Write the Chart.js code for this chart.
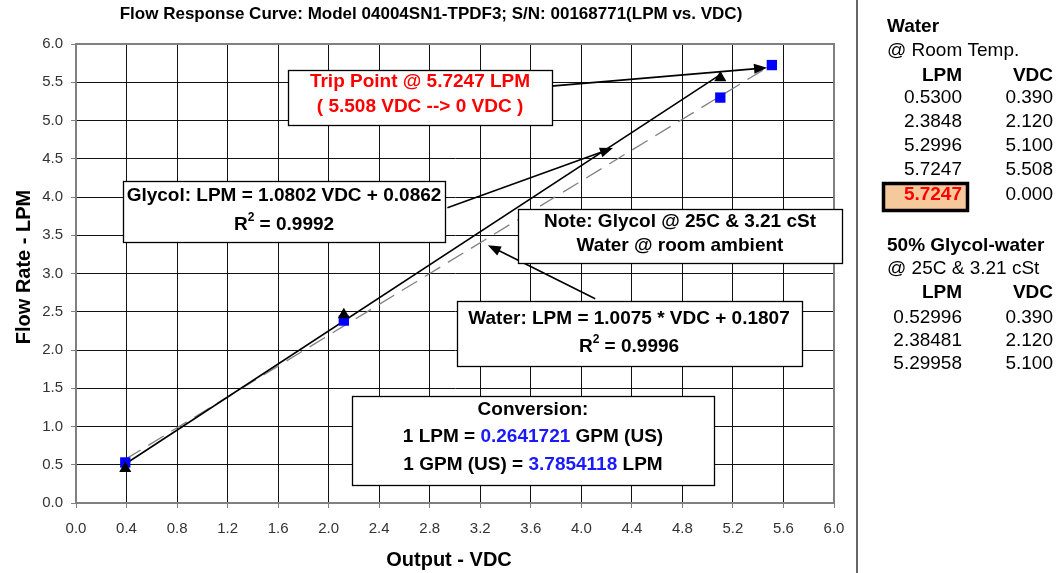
<!DOCTYPE html>
<html>
<head>
<meta charset="utf-8">
<style>
  html,body{margin:0;padding:0;background:#fff;}
  canvas{display:block;}
</style>
<script src="https://cdn.jsdelivr.net/npm/chart.js@4.4.1/dist/chart.umd.min.js"></script>
</head>
<body>
<canvas id="c" width="1058" height="573"></canvas>
<script>
// ---------- data ----------
const waterVDC = [0.39, 2.12, 5.10, 5.508];
const waterLPM = [0.53, 2.3848, 5.2996, 5.7247];
const glycolVDC = [0.39, 2.12, 5.10];
const glycolLPM = [0.45, 2.46, 5.56];          // as plotted
const glycolTrendVDC = [0.39, 5.10];
const glycolTrendLPM = [0.51, 5.60];
const waterTrendVDC = [0.39, 5.508];
const waterTrendLPM = [0.57, 5.73];

const tableWaterLPM = ['0.5300', '2.3848', '5.2996', '5.7247', '5.7247'];
const tableWaterVDC = ['0.390', '2.120', '5.100', '5.508', '0.000'];
const tableGlycolLPM = ['0.52996', '2.38481', '5.29958'];
const tableGlycolVDC = ['0.390', '2.120', '5.100'];

// arrows in data coordinates: [fromX, fromY, toX, toY]
const arrowTrip = [3.69, 5.44, 5.47, 5.69];
const arrowGlycol = [2.94, 3.86, 4.25, 4.64];
const arrowWater = [4.11, 2.67, 3.26, 3.37];

const FAM = '"Liberation Sans", Arial, Helvetica, sans-serif';
const pts = (xs, ys) => xs.map((x, i) => ({x: x, y: ys[i]}));

function drawRich(ctx, segs, cx, cy) {
  let total = 0;
  segs.forEach(s => { ctx.font = s.font; s.w = ctx.measureText(s.t).width; total += s.w; });
  let x = cx - total / 2;
  ctx.textAlign = 'left';
  ctx.textBaseline = 'middle';
  segs.forEach(s => {
    ctx.font = s.font; ctx.fillStyle = s.color || '#000';
    ctx.fillText(s.t, x, cy + (s.dy || 0));
    x += s.w;
  });
}

function box(ctx, l, t, r, b) {
  ctx.save();
  ctx.fillStyle = '#fff';
  ctx.fillRect(l, t, r - l, b - t);
  ctx.strokeStyle = '#000';
  ctx.lineWidth = 1.3;
  ctx.strokeRect(l + 0.5, t + 0.5, r - l, b - t);
  ctx.restore();
}

function arrow(ctx, chart, a) {
  const xs = chart.scales.x, ys = chart.scales.y;
  const x1 = xs.getPixelForValue(a[0]), y1 = ys.getPixelForValue(a[1]);
  const x2 = xs.getPixelForValue(a[2]), y2 = ys.getPixelForValue(a[3]);
  const ang = Math.atan2(y2 - y1, x2 - x1);
  const L = 13, W = 5;
  ctx.save();
  ctx.strokeStyle = '#000'; ctx.fillStyle = '#000'; ctx.lineWidth = 1.6;
  ctx.beginPath();
  ctx.moveTo(x1, y1);
  ctx.lineTo(x2 - Math.cos(ang) * L * 0.8, y2 - Math.sin(ang) * L * 0.8);
  ctx.stroke();
  ctx.beginPath();
  ctx.moveTo(x2, y2);
  ctx.lineTo(x2 - Math.cos(ang) * L - Math.sin(ang) * W, y2 - Math.sin(ang) * L + Math.cos(ang) * W);
  ctx.lineTo(x2 - Math.cos(ang) * L + Math.sin(ang) * W, y2 - Math.sin(ang) * L - Math.cos(ang) * W);
  ctx.closePath();
  ctx.fill();
  ctx.restore();
}

const deco = {
  id: 'deco',
  beforeDatasetsDraw(chart) {
    const ctx = chart.ctx, a = chart.chartArea;
    ctx.save();
    ctx.strokeStyle = '#808080';
    ctx.lineWidth = 2;
    ctx.strokeRect(a.left, a.top, a.right - a.left, a.bottom - a.top);
    ctx.restore();
  },
  afterDatasetsDraw(chart) {
    const ctx = chart.ctx;
    ctx.save();
    // arrows
    arrow(ctx, chart, arrowTrip);
    arrow(ctx, chart, arrowGlycol);
    arrow(ctx, chart, arrowWater);

    const B = 'bold 19px ' + FAM;
    const BS = 'bold 12px ' + FAM;
    // Trip point box
    box(ctx, 288, 70, 552, 125);
    drawRich(ctx, [{t: 'Trip Point @ 5.7247 LPM', font: B, color: '#ff0000'}], 420, 82);
    drawRich(ctx, [{t: '( 5.508 VDC --> 0 VDC )', font: B, color: '#ff0000'}], 420, 107);
    // Glycol box
    box(ctx, 123, 181, 445, 242);
    drawRich(ctx, [{t: 'Glycol: LPM = 1.0802 VDC + 0.0862', font: B}], 284, 196);
    drawRich(ctx, [{t: 'R', font: B}, {t: '2', font: BS, dy: -7}, {t: ' = 0.9992', font: B}], 284, 225);
    // Note box
    box(ctx, 518, 209, 842, 263);
    drawRich(ctx, [{t: 'Note: Glycol @ 25C & 3.21 cSt', font: B}], 680, 222);
    drawRich(ctx, [{t: 'Water @ room ambient', font: B}], 680, 246);
    // Water box
    box(ctx, 457, 301, 802, 366);
    drawRich(ctx, [{t: 'Water: LPM = 1.0075 * VDC + 0.1807', font: B}], 629, 319);
    drawRich(ctx, [{t: 'R', font: B}, {t: '2', font: BS, dy: -7}, {t: ' = 0.9996', font: B}], 629, 347);
    // Conversion box
    box(ctx, 352, 396, 714, 485);
    drawRich(ctx, [{t: 'Conversion:', font: B}], 533, 410);
    drawRich(ctx, [{t: '1 LPM = ', font: B}, {t: '0.2641721', font: B, color: '#1a1aff'}, {t: ' GPM (US)', font: B}], 533, 437);
    drawRich(ctx, [{t: '1 GPM (US) = ', font: B}, {t: '3.7854118', font: B, color: '#1a1aff'}, {t: ' LPM', font: B}], 533, 465);

    // title
    drawRich(ctx, [{t: 'Flow Response Curve: Model 04004SN1-TPDF3; S/N: 00168771(LPM vs. VDC)', font: 'bold 17px ' + FAM}], 431, 14);
    // axis titles
    drawRich(ctx, [{t: 'Output - VDC', font: 'bold 20px ' + FAM}], 449, 560);
    ctx.save();
    ctx.translate(24, 267);
    ctx.rotate(-Math.PI / 2);
    drawRich(ctx, [{t: 'Flow Rate - LPM', font: 'bold 20px ' + FAM}], 0, 0);
    ctx.restore();

    // separator
    ctx.strokeStyle = '#333';
    ctx.lineWidth = 1.5;
    ctx.beginPath(); ctx.moveTo(857, 0); ctx.lineTo(857, 573); ctx.stroke();

    // right panel
    const R = '19px ' + FAM, RB = 'bold 19px ' + FAM;
    const xL = 887, xC1 = 962, xC2 = 1053;
    ctx.textBaseline = 'middle';
    ctx.fillStyle = '#000';
    ctx.textAlign = 'left';
    ctx.font = RB; ctx.fillText('Water', xL, 27);
    ctx.font = R; ctx.fillText('@ Room Temp.', xL, 51);
    ctx.textAlign = 'right';
    ctx.font = RB; ctx.fillText('LPM', xC1, 76); ctx.fillText('VDC', xC2, 76);
    // highlight cell
    ctx.fillStyle = '#f6c99d';
    ctx.fillRect(882, 182, 87, 30);
    ctx.strokeStyle = '#000'; ctx.lineWidth = 3.5;
    ctx.strokeRect(883.5, 183.5, 84, 27);
    const rowsW = [98, 122, 146, 170, 195];
    tableWaterLPM.forEach((v, i) => {
      const last = i === tableWaterLPM.length - 1;
      ctx.font = last ? RB : R;
      ctx.fillStyle = last ? '#ff0000' : '#000';
      ctx.fillText(v, xC1, rowsW[i]);
      ctx.font = R; ctx.fillStyle = '#000';
      ctx.fillText(tableWaterVDC[i], xC2, rowsW[i]);
    });
    ctx.textAlign = 'left';
    ctx.font = RB; ctx.fillText('50% Glycol-water', xL, 246);
    ctx.font = R; ctx.fillText('@ 25C & 3.21 cSt', xL, 269);
    ctx.textAlign = 'right';
    ctx.font = RB; ctx.fillText('LPM', xC1, 293); ctx.fillText('VDC', xC2, 293);
    const rowsG = [318, 341, 364];
    ctx.font = R;
    tableGlycolLPM.forEach((v, i) => {
      ctx.fillText(v, xC1, rowsG[i]);
      ctx.fillText(tableGlycolVDC[i], xC2, rowsG[i]);
    });
    ctx.restore();
  }
};

new Chart(document.getElementById('c'), {
  type: 'scatter',
  data: {
    datasets: [
      {label: 'Glycol', data: pts(glycolVDC, glycolLPM), pointStyle: 'triangle', pointRadius: 7,
       backgroundColor: '#000', borderColor: '#000', borderWidth: 0, order: 0},
      {label: 'Water', data: pts(waterVDC, waterLPM), pointStyle: 'rect', pointRadius: 7.3,
       backgroundColor: '#0000ff', borderColor: '#0000ff', borderWidth: 0, order: 1},
      {label: 'Glycol fit', type: 'line', data: pts(glycolTrendVDC, glycolTrendLPM), borderColor: '#000',
       borderWidth: 1.6, pointRadius: 0, fill: false, order: 2},
      {label: 'Water fit', type: 'line', data: pts(waterTrendVDC, waterTrendLPM), borderColor: '#808080',
       borderWidth: 1.3, borderDash: [18, 9], pointRadius: 0, fill: false, order: 3}
    ]
  },
  options: {
    responsive: false,
    animation: false,
    events: [],
    layout: {padding: {left: 0, right: 224, top: 44, bottom: 0}},
    plugins: {legend: {display: false}, tooltip: {enabled: false}, title: {display: false}},
    scales: {
      x: {
        type: 'linear', min: 0, max: 6,
        ticks: {stepSize: 0.4, callback: v => v.toFixed(1), color: '#333', font: {size: 15, family: FAM}, padding: 12, maxRotation: 0, autoSkip: false},
        grid: {color: '#111', lineWidth: 1, tickColor: '#808080', tickLength: 5},
        border: {color: '#808080', width: 2},
        afterFit(s) { s.height = 70; }
      },
      y: {
        type: 'linear', min: 0, max: 6,
        ticks: {stepSize: 0.5, callback: v => v.toFixed(1), color: '#333', font: {size: 15, family: FAM}, padding: 8},
        grid: {color: '#111', lineWidth: 1, tickColor: '#808080', tickLength: 5},
        border: {color: '#808080', width: 2},
        afterFit(s) { s.width = 76; }
      }
    }
  },
  plugins: [deco]
});
</script>
</body>
</html>
